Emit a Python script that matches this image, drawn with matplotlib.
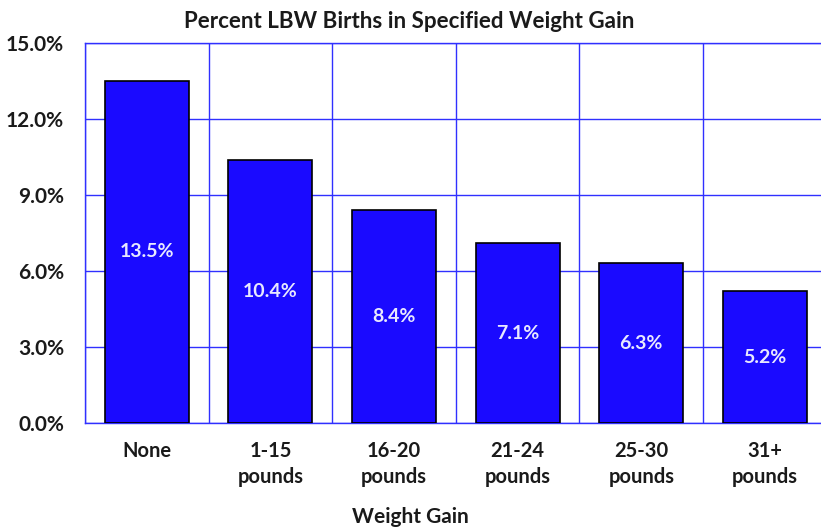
import matplotlib
matplotlib.use("Agg")
import matplotlib.pyplot as plt
from matplotlib.ticker import FuncFormatter, MultipleLocator

categories = ["None", "1-15\npounds", "16-20\npounds", "21-24\npounds", "25-30\npounds", "31+\npounds"]
values = [13.5, 10.4, 8.4, 7.1, 6.3, 5.2]
value_labels = ["13.5%", "10.4%", "8.4%", "7.1%", "6.3%", "5.2%"]

plt.rcParams['font.family'] = ['Lato', 'DejaVu Sans']
plt.rcParams['font.weight'] = 'bold'

fig = plt.figure(figsize=(8.21, 5.29), dpi=100)
ax = fig.add_axes([0.1035, 0.2004, 0.9035, 0.7183])

grid_c = '#3030FF'
text_c = '#1a1a1a'
x = list(range(len(categories)))
ax.bar(x, values, width=0.68, color='#1A0AFF', edgecolor='black', linewidth=1.2, zorder=3)

for xi, v, lab in zip(x, values, value_labels):
    ax.text(xi, v / 2, lab, ha='center', va='center', color='#E8E8FF',
            fontsize=14, fontweight='bold', zorder=4)

ax.set_xlim(-0.5, len(categories) - 0.5)
ax.set_ylim(0, 15)
ax.yaxis.set_major_locator(MultipleLocator(3))
ax.yaxis.set_major_formatter(FuncFormatter(lambda v, p: f"{v:.1f}%"))
ax.set_xticks(x)
ax.set_xticklabels(categories, fontsize=14.5, fontweight='bold', color=text_c, linespacing=1.35)
ax.tick_params(axis='x', length=0, pad=13)
ax.tick_params(axis='y', length=0, pad=15, labelsize=15, labelcolor=text_c)

for b in [i - 0.5 for i in range(len(categories) + 1)]:
    ax.axvline(b, color=grid_c, linewidth=1.0, zorder=1)
ax.yaxis.grid(True, color=grid_c, linewidth=1.0, zorder=1)
ax.set_axisbelow(True)
for s in ax.spines.values():
    s.set_color(grid_c)
    s.set_linewidth(1.0)

ax.set_title("Percent LBW Births in Specified Weight Gain", fontsize=16.1,
             fontweight='bold', color=text_c, pad=11, x=0.4375)
fig.text(0.5, 0.022, "Weight Gain", ha='center', va='center', fontsize=15,
         fontweight='bold', color=text_c)

fig.savefig("out.png", dpi=100)
